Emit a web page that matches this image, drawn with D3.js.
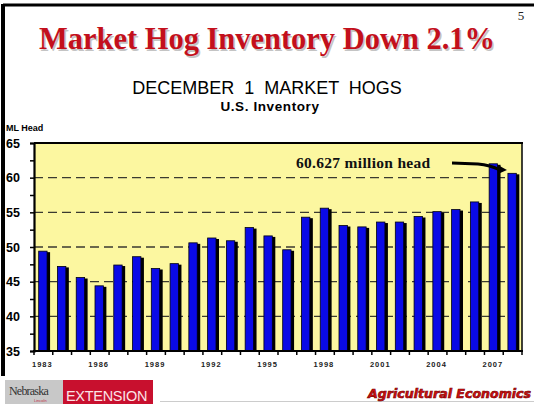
<!DOCTYPE html>
<html>
<head>
<meta charset="utf-8">
<script src="https://cdn.jsdelivr.net/npm/d3@7"></script>
<style>
  html, body { margin: 0; padding: 0; background: #fff; }
  svg { display: block; }
</style>
</head>
<body>
<svg id="chart" width="534" height="404"></svg>
<script>
// ---- data ----
const years = [1983,1984,1985,1986,1987,1988,1989,1990,1991,1992,1993,1994,1995,
               1996,1997,1998,1999,2000,2001,2002,2003,2004,2005,2006,2007,2008];
const inventory = [49.4,47.2,45.6,44.4,47.4,48.6,46.9,47.6,50.6,51.3,50.9,52.8,51.6,
                   49.6,54.3,55.6,53.1,52.9,53.6,53.6,54.4,55.1,55.4,56.5,62.0,60.627];
const yTicks = [35,40,45,50,55,60,65];
const yMinorTicks = [35,37.5,40,42.5,45,47.5,50,52.5,55,57.5,60,62.5,65];
const gridValues = [40,45,50,55,60];
const xLabelYears = [1983,1986,1989,1992,1995,1998,2001,2004,2007];
const titleText = "Market Hog Inventory Down 2.1%";
const subtitleText = "DECEMBER 1 MARKET HOGS";
const subtitle2Text = "U.S. Inventory";
const unitText = "ML Head";
const annotationText = "60.627 million head";

// ---- layout ----
const svg = d3.select("#chart");
const plot = {left: 34, right: 522, top: 143, bottom: 351};

const x = d3.scaleBand().domain(years).range([plot.left, plot.right])
  .paddingInner(0.5).paddingOuter(0.25);
const y = d3.scaleLinear().domain([35, 65]).range([plot.bottom, plot.top]);

// slide frame
svg.append("line").attr("x1", 3).attr("x2", 534).attr("y1", 5).attr("y2", 5)
  .attr("stroke", "#000").attr("stroke-width", 3);
svg.append("line").attr("x1", 3).attr("x2", 3).attr("y1", 4).attr("y2", 376)
  .attr("stroke", "#000").attr("stroke-width", 4);

// title
const titleFont = "'Liberation Serif', 'Times New Roman', serif";
svg.append("text").attr("x", 268.5).attr("y", 50.5)
  .attr("text-anchor", "middle")
  .attr("font-family", titleFont)
  .attr("font-weight", "bold").attr("font-size", 32)
  .attr("fill", "#c4c4c4")
  .attr("textLength", 456).attr("lengthAdjust", "spacingAndGlyphs")
  .text(titleText);
svg.append("text").attr("x", 267).attr("y", 49)
  .attr("text-anchor", "middle")
  .attr("font-family", titleFont)
  .attr("font-weight", "bold").attr("font-size", 32)
  .attr("fill", "#c3101c")
  .attr("textLength", 456).attr("lengthAdjust", "spacingAndGlyphs")
  .text(titleText);

svg.append("text").attr("x", 521).attr("y", 20)
  .attr("text-anchor", "middle")
  .attr("font-family", "'Liberation Serif', serif")
  .attr("font-size", 13).attr("fill", "#222")
  .text("5");

svg.append("text").attr("x", 267).attr("y", 94)
  .attr("text-anchor", "middle")
  .attr("font-family", "'Liberation Sans', Arial, sans-serif")
  .attr("font-size", 18).attr("fill", "#000")
  .attr("word-spacing", 5)
  .text(subtitleText);

svg.append("text").attr("x", 270).attr("y", 111)
  .attr("text-anchor", "middle")
  .attr("font-family", "'Liberation Sans', Arial, sans-serif")
  .attr("font-weight", "bold")
  .attr("font-size", 13.5).attr("fill", "#000")
  .attr("letter-spacing", 0.6)
  .text(subtitle2Text);

svg.append("text").attr("x", 6).attr("y", 131)
  .attr("font-family", "'Liberation Sans', Arial, sans-serif")
  .attr("font-weight", "bold")
  .attr("font-size", 9).attr("fill", "#000")
  .text(unitText);

// plot background
svg.append("rect").attr("x", plot.left).attr("y", plot.top)
  .attr("width", plot.right - plot.left).attr("height", plot.bottom - plot.top)
  .attr("fill", "#fcf7a0");

// dashed gridlines
svg.append("g").selectAll("line").data(gridValues).join("line")
  .attr("x1", plot.left).attr("x2", plot.right)
  .attr("y1", d => y(d)).attr("y2", d => y(d))
  .attr("stroke", "#3a3a30").attr("stroke-width", 1.3)
  .attr("stroke-dasharray", "9,5");

// bars: black shadow + blue face
const bars = svg.append("g");
bars.selectAll("rect.shadow").data(years).join("rect")
  .attr("class", "shadow")
  .attr("x", d => x(d) + 1)
  .attr("y", (d, i) => y(inventory[i]) + 1)
  .attr("width", x.bandwidth() + 1)
  .attr("height", (d, i) => y(35) - y(inventory[i]) - 1)
  .attr("fill", "#000");
bars.selectAll("rect.face").data(years).join("rect")
  .attr("class", "face")
  .attr("x", d => x(d))
  .attr("y", (d, i) => y(inventory[i]))
  .attr("width", x.bandwidth() - 1)
  .attr("height", (d, i) => y(35) - y(inventory[i]))
  .attr("fill", "#0a0ae6")
  .attr("stroke", "#000010").attr("stroke-width", 0.8);

// plot frame (top and right)
svg.append("line").attr("x1", plot.left).attr("x2", plot.right + 1)
  .attr("y1", plot.top).attr("y2", plot.top)
  .attr("stroke", "#000").attr("stroke-width", 2);
svg.append("line").attr("x1", plot.right).attr("x2", plot.right)
  .attr("y1", plot.top).attr("y2", plot.bottom)
  .attr("stroke", "#000").attr("stroke-width", 1.5);

// y axis
const yAxis = d3.axisLeft(y).tickValues(yMinorTicks).tickSize(4).tickFormat("");
const yg = svg.append("g").attr("transform", `translate(${plot.left},0)`).call(yAxis);
yg.select(".domain").attr("stroke", "#000").attr("stroke-width", 2.2);
yg.selectAll(".tick line").attr("stroke", "#000").attr("stroke-width", 1.5);

svg.append("g").selectAll("text").data(yTicks).join("text")
  .attr("x", 20).attr("y", d => y(d) + 4.5)
  .attr("text-anchor", "end")
  .attr("font-family", "'Liberation Sans', Arial, sans-serif")
  .attr("font-weight", "bold").attr("font-size", 12.5)
  .attr("fill", "#000")
  .text(d => d);

// x axis
const boundaries = years.map(d => x(d) - x.step() * x.paddingInner() / 2)
  .concat([plot.right]);
svg.append("line").attr("x1", plot.left - 1).attr("x2", plot.right + 1)
  .attr("y1", plot.bottom).attr("y2", plot.bottom)
  .attr("stroke", "#000").attr("stroke-width", 2.2);
svg.append("g").selectAll("line").data(boundaries).join("line")
  .attr("x1", d => d).attr("x2", d => d)
  .attr("y1", plot.bottom).attr("y2", plot.bottom + 4)
  .attr("stroke", "#000").attr("stroke-width", 1.5);

svg.append("g").selectAll("text").data(xLabelYears).join("text")
  .attr("x", d => x(d) + x.bandwidth() / 2 - 1)
  .attr("y", 367)
  .attr("text-anchor", "middle")
  .attr("font-family", "'Liberation Sans', Arial, sans-serif")
  .attr("font-weight", "bold").attr("font-size", 7.5)
  .attr("letter-spacing", 1)
  .attr("fill", "#222")
  .text(d => d);

// annotation
svg.append("text").attr("x", 296).attr("y", 168)
  .attr("font-family", titleFont)
  .attr("font-weight", "bold").attr("font-size", 15.5)
  .attr("letter-spacing", 0.3)
  .attr("fill", "#111")
  .text(annotationText);

const ax = x(2008) - 1, ay = 170;
svg.append("path")
  .attr("d", `M452,163 L478,164 Q490,165 ${ax - 7},${ay}`)
  .attr("fill", "none").attr("stroke", "#000").attr("stroke-width", 3);
svg.append("path")
  .attr("d", `M${ax},${ay} L${ax - 9},${ay - 5} L${ax - 9},${ay + 4} Z`)
  .attr("fill", "#000");

// footer: Nebraska Extension logo
svg.append("rect").attr("x", 5).attr("y", 380).attr("width", 58).attr("height", 24)
  .attr("fill", "#c8c8c8");
svg.append("text").attr("x", 9).attr("y", 395)
  .attr("font-family", "'Liberation Serif', serif")
  .attr("font-size", 12).attr("fill", "#333").attr("letter-spacing", -0.8)
  .text("Nebraska");
svg.append("text").attr("x", 34).attr("y", 402)
  .attr("font-family", "'Liberation Sans', sans-serif")
  .attr("font-size", 4).attr("fill", "#c0304a")
  .text("Lincoln");
svg.append("rect").attr("x", 63).attr("y", 380).attr("width", 90).attr("height", 24)
  .attr("fill", "#c8102e");
svg.append("text").attr("x", 66).attr("y", 401)
  .attr("font-family", "'Liberation Sans', Arial, sans-serif")
  .attr("font-size", 14.5).attr("fill", "#fbe3e6")
  .attr("letter-spacing", -0.3)
  .text("EXTENSION");

// footer: Agricultural Economics
svg.append("line").attr("x1", 160).attr("x2", 534).attr("y1", 401.5).attr("y2", 401.5)
  .attr("stroke", "#ccc").attr("stroke-width", 1);
svg.append("text").attr("x", 531).attr("y", 398)
  .attr("text-anchor", "end")
  .attr("font-family", "'DejaVu Sans', sans-serif")
  .attr("font-weight", "bold").attr("font-style", "italic")
  .attr("font-size", 12).attr("fill", "#d01010")
  .attr("stroke", "#700").attr("stroke-width", 0.6)
  .attr("textLength", 163).attr("lengthAdjust", "spacingAndGlyphs")
  .text("Agricultural Economics");
</script>
</body>
</html>
